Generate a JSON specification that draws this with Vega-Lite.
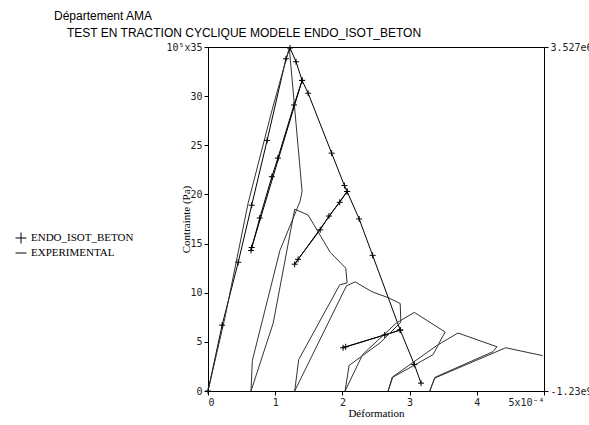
{
  "$schema": "https://vega.github.io/schema/vega-lite/v6.json",
  "autosize": "none",
  "width": 336,
  "height": 344,
  "padding": {"left": 208, "top": 47, "right": 45, "bottom": 34},
  "background": "white",
  "title": {
    "text": "Département AMA",
    "subtitle": "TEST EN TRACTION CYCLIQUE MODELE ENDO_ISOT_BETON",
    "anchor": "start",
    "frame": "group",
    "dx": -154,
    "offset": 2,
    "font": "Liberation Sans",
    "fontSize": 12,
    "fontWeight": "normal",
    "subtitleFont": "Liberation Sans",
    "subtitleFontSize": 12,
    "subtitleColor": "black",
    "subtitlePadding": 5,
    "color": "black",
    "encode": {"subtitle": {"update": {"dx": {"value": -141}}}}
  },
  "config": {
    "view": {"stroke": "black", "strokeWidth": 1},
    "axis": {
      "grid": false,
      "domainColor": "black",
      "tickColor": "black",
      "tickSize": 4,
      "labelFont": "DejaVu Sans Mono",
      "labelFontSize": 10,
      "labelColor": "#222",
      "labelPadding": 2,
      "titleFont": "Liberation Serif",
      "titleFontSize": 11,
      "titleFontWeight": "normal",
      "titleColor": "black"
    }
  },
  "data": {
    "values": [
      {"s": "ENDO_ISOT_BETON", "i": 0, "x": 0, "y": 0},
      {"s": "ENDO_ISOT_BETON", "i": 1, "x": 0.21, "y": 6.7},
      {"s": "ENDO_ISOT_BETON", "i": 2, "x": 0.45, "y": 13.1},
      {"s": "ENDO_ISOT_BETON", "i": 3, "x": 0.65, "y": 18.9},
      {"s": "ENDO_ISOT_BETON", "i": 4, "x": 0.88, "y": 25.5},
      {"s": "ENDO_ISOT_BETON", "i": 5, "x": 1.16, "y": 33.8},
      {"s": "ENDO_ISOT_BETON", "i": 6, "x": 1.22, "y": 34.9},
      {"s": "ENDO_ISOT_BETON", "i": 7, "x": 1.31, "y": 33.5},
      {"s": "ENDO_ISOT_BETON", "i": 8, "x": 1.40, "y": 31.6},
      {"s": "ENDO_ISOT_BETON", "i": 9, "x": 1.28, "y": 29.1},
      {"s": "ENDO_ISOT_BETON", "i": 10, "x": 1.04, "y": 23.7},
      {"s": "ENDO_ISOT_BETON", "i": 11, "x": 0.95, "y": 21.8},
      {"s": "ENDO_ISOT_BETON", "i": 12, "x": 0.77, "y": 17.6},
      {"s": "ENDO_ISOT_BETON", "i": 13, "x": 0.64, "y": 14.3},
      {"s": "ENDO_ISOT_BETON", "i": 14, "x": 0.65, "y": 14.6},
      {"s": "ENDO_ISOT_BETON", "i": 15, "x": 1.40, "y": 31.6},
      {"s": "ENDO_ISOT_BETON", "i": 16, "x": 1.49, "y": 30.3},
      {"s": "ENDO_ISOT_BETON", "i": 17, "x": 1.84, "y": 24.2},
      {"s": "ENDO_ISOT_BETON", "i": 18, "x": 2.03, "y": 20.9},
      {"s": "ENDO_ISOT_BETON", "i": 19, "x": 2.07, "y": 20.3},
      {"s": "ENDO_ISOT_BETON", "i": 20, "x": 1.96, "y": 19.2},
      {"s": "ENDO_ISOT_BETON", "i": 21, "x": 1.80, "y": 17.8},
      {"s": "ENDO_ISOT_BETON", "i": 22, "x": 1.67, "y": 16.4},
      {"s": "ENDO_ISOT_BETON", "i": 23, "x": 1.34, "y": 13.4},
      {"s": "ENDO_ISOT_BETON", "i": 24, "x": 1.29, "y": 12.9},
      {"s": "ENDO_ISOT_BETON", "i": 25, "x": 2.07, "y": 20.3},
      {"s": "ENDO_ISOT_BETON", "i": 26, "x": 2.25, "y": 17.5},
      {"s": "ENDO_ISOT_BETON", "i": 27, "x": 2.45, "y": 13.8},
      {"s": "ENDO_ISOT_BETON", "i": 28, "x": 2.86, "y": 6.2},
      {"s": "ENDO_ISOT_BETON", "i": 29, "x": 2.63, "y": 5.7},
      {"s": "ENDO_ISOT_BETON", "i": 30, "x": 2.05, "y": 4.5},
      {"s": "ENDO_ISOT_BETON", "i": 31, "x": 2.01, "y": 4.4},
      {"s": "ENDO_ISOT_BETON", "i": 32, "x": 2.86, "y": 6.2},
      {"s": "ENDO_ISOT_BETON", "i": 33, "x": 3.07, "y": 2.7},
      {"s": "ENDO_ISOT_BETON", "i": 34, "x": 3.17, "y": 0.8},
      {"s": "EXPERIMENTAL", "i": 0, "x": 0, "y": 0},
      {"s": "EXPERIMENTAL", "i": 1, "x": 0.25, "y": 7.4},
      {"s": "EXPERIMENTAL", "i": 2, "x": 0.60, "y": 19.2},
      {"s": "EXPERIMENTAL", "i": 3, "x": 0.95, "y": 28.5},
      {"s": "EXPERIMENTAL", "i": 4, "x": 1.21, "y": 34.9},
      {"s": "EXPERIMENTAL", "i": 5, "x": 1.40, "y": 20.3},
      {"s": "EXPERIMENTAL", "i": 6, "x": 1.37, "y": 19.3},
      {"s": "EXPERIMENTAL", "i": 7, "x": 1.07, "y": 14.3},
      {"s": "EXPERIMENTAL", "i": 8, "x": 0.66, "y": 3.1},
      {"s": "EXPERIMENTAL", "i": 9, "x": 0.64, "y": 0},
      {"s": "EXPERIMENTAL", "i": 10, "x": 0.97, "y": 6.9},
      {"s": "EXPERIMENTAL", "i": 11, "x": 1.29, "y": 18.5},
      {"s": "EXPERIMENTAL", "i": 12, "x": 1.49, "y": 17.9},
      {"s": "EXPERIMENTAL", "i": 13, "x": 1.82, "y": 14.1},
      {"s": "EXPERIMENTAL", "i": 14, "x": 2.05, "y": 12.5},
      {"s": "EXPERIMENTAL", "i": 15, "x": 2.07, "y": 11.0},
      {"s": "EXPERIMENTAL", "i": 16, "x": 1.96, "y": 10.8},
      {"s": "EXPERIMENTAL", "i": 17, "x": 1.35, "y": 3.2},
      {"s": "EXPERIMENTAL", "i": 18, "x": 1.29, "y": 0},
      {"s": "EXPERIMENTAL", "i": 19, "x": 2.06, "y": 10.7},
      {"s": "EXPERIMENTAL", "i": 20, "x": 2.19, "y": 11.1},
      {"s": "EXPERIMENTAL", "i": 21, "x": 2.44, "y": 10.1},
      {"s": "EXPERIMENTAL", "i": 22, "x": 2.68, "y": 9.5},
      {"s": "EXPERIMENTAL", "i": 23, "x": 2.86, "y": 8.9},
      {"s": "EXPERIMENTAL", "i": 24, "x": 2.87, "y": 7.0},
      {"s": "EXPERIMENTAL", "i": 25, "x": 2.56, "y": 4.9},
      {"s": "EXPERIMENTAL", "i": 26, "x": 2.10, "y": 2.6},
      {"s": "EXPERIMENTAL", "i": 27, "x": 2.04, "y": 0},
      {"s": "EXPERIMENTAL", "i": 28, "x": 2.30, "y": 3.7},
      {"s": "EXPERIMENTAL", "i": 29, "x": 2.80, "y": 6.9},
      {"s": "EXPERIMENTAL", "i": 30, "x": 3.07, "y": 8.0},
      {"s": "EXPERIMENTAL", "i": 31, "x": 3.53, "y": 6.0},
      {"s": "EXPERIMENTAL", "i": 32, "x": 3.48, "y": 5.4},
      {"s": "EXPERIMENTAL", "i": 33, "x": 3.35, "y": 3.7},
      {"s": "EXPERIMENTAL", "i": 34, "x": 2.75, "y": 1.4},
      {"s": "EXPERIMENTAL", "i": 35, "x": 2.68, "y": 0},
      {"s": "EXPERIMENTAL", "i": 36, "x": 2.74, "y": 1.4},
      {"s": "EXPERIMENTAL", "i": 37, "x": 3.40, "y": 4.6},
      {"s": "EXPERIMENTAL", "i": 38, "x": 3.72, "y": 5.9},
      {"s": "EXPERIMENTAL", "i": 39, "x": 4.30, "y": 4.5},
      {"s": "EXPERIMENTAL", "i": 40, "x": 4.24, "y": 4.0},
      {"s": "EXPERIMENTAL", "i": 41, "x": 3.38, "y": 1.4},
      {"s": "EXPERIMENTAL", "i": 42, "x": 3.30, "y": 0},
      {"s": "EXPERIMENTAL", "i": 43, "x": 3.37, "y": 1.3},
      {"s": "EXPERIMENTAL", "i": 44, "x": 4.43, "y": 4.4},
      {"s": "EXPERIMENTAL", "i": 45, "x": 4.98, "y": 3.6}
    ]
  },
  "resolve": {"axis": {"x": "independent", "y": "independent"}},
  "layer": [
    {
      "mark": {"type": "line", "strokeWidth": 1, "clip": true},
      "encoding": {
        "x": {
          "field": "x", "type": "quantitative",
          "scale": {"domain": [0, 5], "nice": false},
          "axis": {
            "values": [0, 1, 2, 3, 4, 5],
            "title": "Déformation",
            "titleX": 168,
            "titleY": 22,
            "titleBaseline": "middle",
            "labelExpr": "datum.value == 5 ? '5x10⁻⁴' : datum.label",
            "encode": {"labels": {"update": {"align": {"signal": "datum.value == 5 ? 'left' : 'center'"}, "dx": {"signal": "datum.value == 5 ? -3 : 0"}}}}
          }
        },
        "y": {
          "field": "y", "type": "quantitative",
          "scale": {"domain": [0, 35], "nice": false},
          "axis": {
            "values": [0, 5, 10, 15, 20, 25, 30, 35],
            "title": "Contrainte (Pa)",
            "titleX": -22,
            "titleY": 172,
            "titleAngle": -90,
            "titleAlign": "center",
            "titleBaseline": "middle",
            "labelExpr": "datum.value == 35 ? '10⁵x35' : datum.label"
          }
        },
        "detail": {"field": "s"},
        "order": {"field": "i", "type": "quantitative"},
        "color": {"condition": {"test": "datum.s == 'EXPERIMENTAL'", "value": "#333333"}, "value": "#000000"}
      }
    },
    {
      "transform": [{"filter": "datum.s == 'ENDO_ISOT_BETON'"}],
      "mark": {"type": "point", "filled": false, "stroke": "black", "strokeWidth": 1, "size": 36, "opacity": 1},
      "encoding": {
        "x": {
          "field": "x", "type": "quantitative",
          "axis": {"orient": "top", "labels": false, "ticks": false, "domain": false, "title": null}
        },
        "y": {
          "field": "y", "type": "quantitative",
          "axis": {
            "orient": "right",
            "values": [0, 35],
            "title": null,
            "labelExpr": "datum.value == 35 ? '3.527e6' : '-1.23e9'"
          }
        },
        "shape": {
          "field": "s", "type": "nominal",
          "scale": {"domain": ["ENDO_ISOT_BETON", "EXPERIMENTAL"], "range": ["M-1,0H1M0,-1V1", "stroke"]},
          "legend": {
            "title": null,
            "orient": "none",
            "legendX": -193,
            "legendY": 185,
            "labelFont": "Liberation Serif",
            "labelFontSize": 11,
            "labelColor": "black",
            "symbolStrokeColor": "black",
            "symbolStrokeWidth": 1,
            "symbolSize": 120,
            "rowPadding": 1
          }
        }
      }
    }
  ]
}
